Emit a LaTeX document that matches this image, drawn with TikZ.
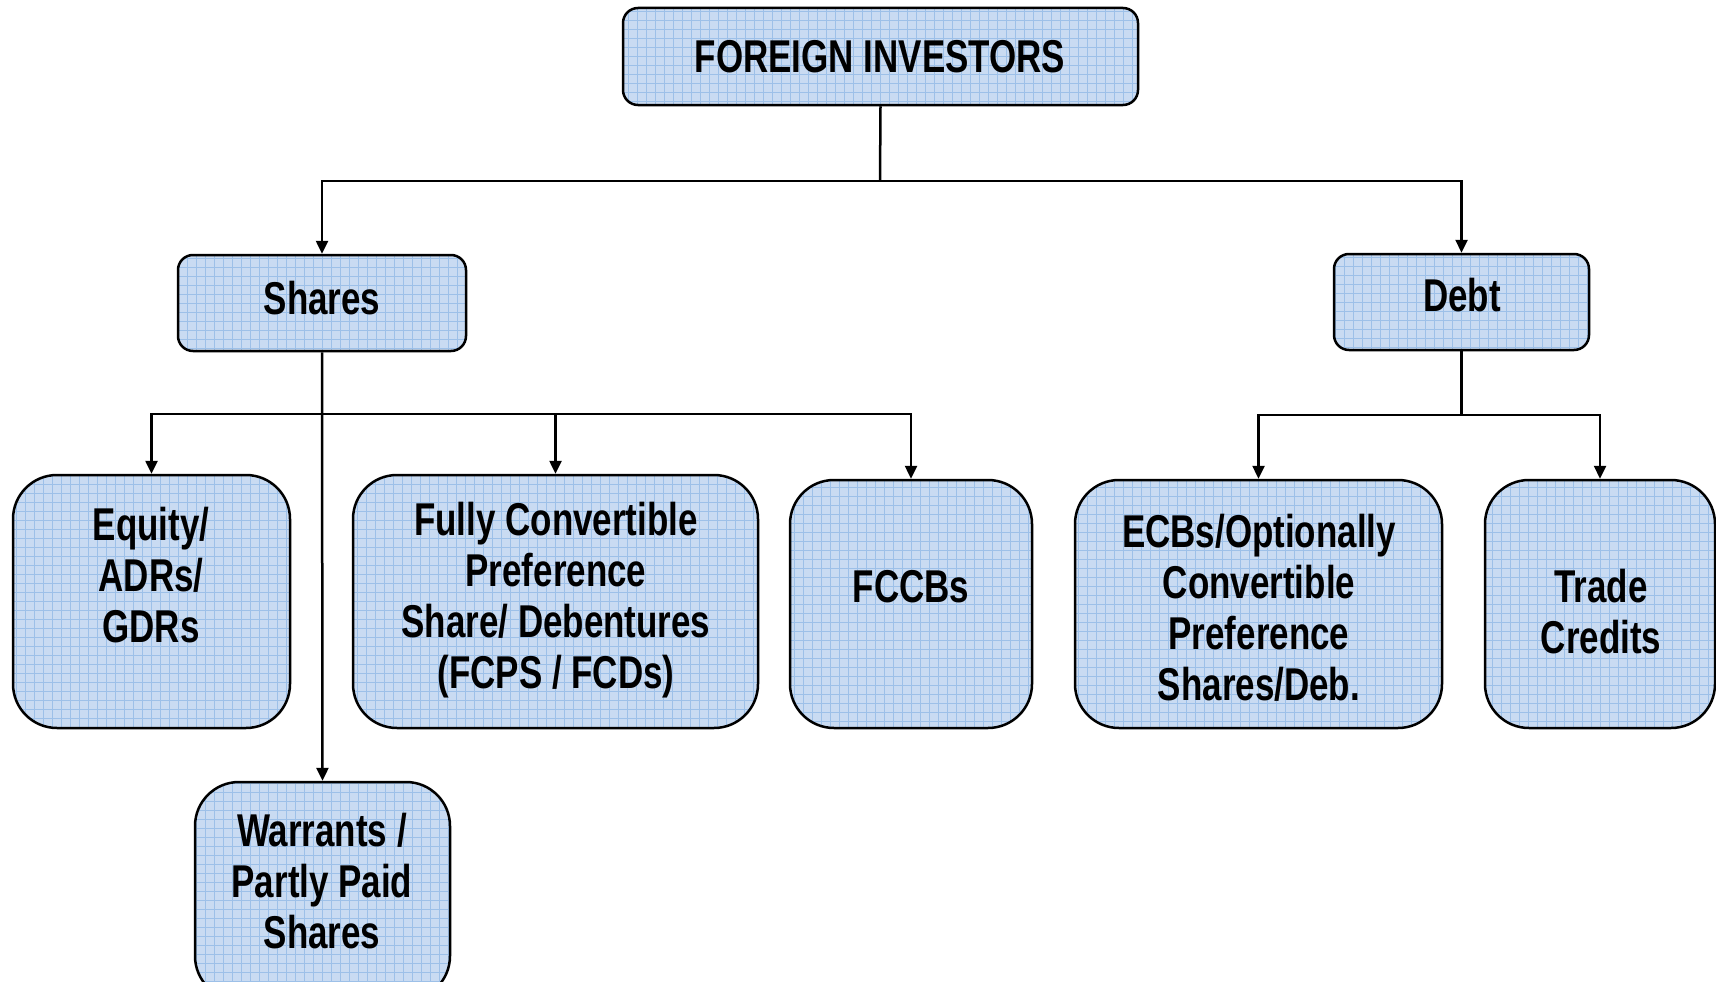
\documentclass[tikz,border=0pt]{standalone}
\usepackage{fontspec}
\setmainfont{Liberation Sans}[FakeStretch=0.76]
\usetikzlibrary{arrows.meta}
\definecolor{boxfill}{HTML}{C9DBF2}
\definecolor{gridc}{HTML}{9DC0E8}
\tikzset{
  box/.style={draw=black, line width=2.5pt, fill=boxfill, rounded corners=#1,
    inner sep=0pt,
    path picture={\draw[gridc, line width=0.8pt, step=9pt]
      (path picture bounding box.south west) grid (path picture bounding box.north east);}},
  box/.default=15pt,
  lbl/.style={align=center, font=\fontsize{46}{51}\selectfont\bfseries, inner sep=0pt},
  arr/.style={line width=2.5pt, -{Triangle[length=13pt,width=12pt]}},
  ln/.style={line width=2.5pt},
}
\begin{document}
\begin{tikzpicture}[x=1pt,y=-1pt]
\useasboundingbox (0,0) rectangle (1716,982);
\clip (0,0) rectangle (1716,982);
% boxes
\node[box, minimum width=515pt, minimum height=97pt] (top) at (880.5,56.5) {};
\node[box, minimum width=288pt, minimum height=96pt] (shares) at (322,303) {};
\node[box, minimum width=255pt, minimum height=96pt] (debt) at (1461.5,302) {};
\node[box=44pt, minimum width=277pt, minimum height=253pt] (equity) at (151.5,601.5) {};
\node[box=44pt, minimum width=405pt, minimum height=253pt] (fully) at (555.5,601.5) {};
\node[box=44pt, minimum width=242pt, minimum height=248pt] (fccb) at (911,604) {};
\node[box=44pt, minimum width=367pt, minimum height=248pt] (ecb) at (1258.5,604) {};
\node[box=44pt, minimum width=230pt, minimum height=248pt] (trade) at (1600,604) {};
\node[box=44pt, minimum width=255pt, minimum height=218pt] (warr) at (322.5,891) {};
% labels
\node[lbl] (ttop) at (880,57) {FOREIGN INVESTORS};
\node[lbl] (tshares) at (322,298) {Shares};
\node[lbl] (tdebt) at (1462,295) {Debt};
\node[lbl] (tequity) at (151,575) {Equity/\\ADRs/\\GDRs};
\node[lbl] (tfully) at (556,600) {Fully Convertible\\Preference\\Share/ Debentures\\(FCPS / FCDs)};
\node[lbl] (tfccb) at (911,587) {FCCBs};
\node[lbl] (tecb) at (1259,608) {ECBs/Optionally\\Convertible\\Preference\\Shares/Deb.};
\node[lbl] (ttrade) at (1601,612) {Trade\\Credits};
\node[lbl] (twarr) at (322,881) {Warrants /\\Partly Paid\\Shares};
% connectors
\coordinate (tj) at (880,181);
\coordinate (sj) at (322,414);
\coordinate (dj) at (1461.5,415);
\draw[ln] (top.south) -- (tj);
\draw[arr] (tj) -| (shares.north);
\draw[arr] (tj) -| (debt.north);
\draw[arr] (shares.south) -- (warr.north);
\draw[arr] (sj) -| (equity.north);
\draw[arr] (sj) -| (fully.north);
\draw[arr] (sj) -| (fccb.north);
\draw[ln] (debt.south) -- (dj);
\draw[arr] (dj) -| (ecb.north);
\draw[arr] (dj) -| (trade.north);
\end{tikzpicture}
\end{document}
